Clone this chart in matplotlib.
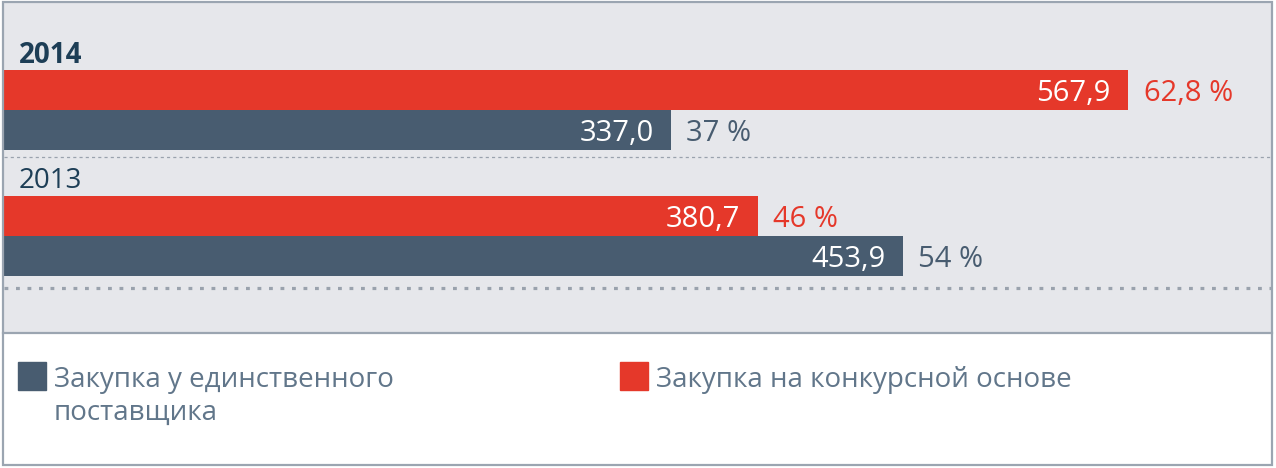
import matplotlib.pyplot as plt
from matplotlib.patches import Rectangle

# data
years = ['2014', '2013']
competitive = [567.9, 380.7]      # Закупка на конкурсной основе
single = [337.0, 453.9]           # Закупка у единственного поставщика
competitive_share = [62.8, 46]
single_share = [37, 54]
legend_labels = ['Закупка у единственного\nпоставщика', 'Закупка на конкурсной основе']

RED = '#e5382a'
NAVY = '#485c70'
YEAR_C = '#1d3e56'
LEG_C = '#61768a'
BG = '#e6e7eb'
FRAME = '#9ba5b1'

plt.rcParams['font.family'] = ['Open Sans', 'DejaVu Sans']

W, H = 1276, 468
fig = plt.figure(figsize=(W / 100, H / 100), dpi=100)
fig.patch.set_facecolor('white')

def fx(px):
    return px / W

def fy(py):
    return 1 - py / H

# gray plotting area, y axis coords == pixel rows
ax = fig.add_axes([fx(4), fy(333), fx(1271) - fx(4), fy(3) - fy(333)])
ax.set_facecolor(BG)
ax.set_ylim(333, 3)
xmax = 640.0
ax.set_xlim(0, xmax)
for s in ax.spines.values():
    s.set_visible(False)
ax.set_xticks([])
ax.set_yticks([])

def num(v):
    return ('%.1f' % v).replace('.', ',')

def pct(v):
    return ('%g' % v).replace('.', ',') + ' %'

group_h = 126
bar_h = 40
for i, yr in enumerate(years):
    top = 70 + i * group_h
    y_red = top + bar_h / 2
    y_nav = top + bar_h + bar_h / 2
    ax.barh(y_red, competitive[i], height=bar_h, color=RED)
    ax.barh(y_nav, single[i], height=bar_h, color=NAVY)
    ax.annotate(yr, xy=(0, top - 18), xytext=(10.5, 0), textcoords='offset points',
                fontsize=20, color=YEAR_C, fontweight='bold' if i == 0 else 'normal',
                va='center_baseline', ha='left')
    for y, v, p, c in [(y_red, competitive[i], competitive_share[i], RED),
                       (y_nav, single[i], single_share[i], NAVY)]:
        ax.annotate(num(v), xy=(v, y), xytext=(-12.5, 0), textcoords='offset points',
                    ha='right', va='center_baseline', color='white', fontsize=21)
        ax.annotate(pct(p), xy=(v, y), xytext=(11, 0), textcoords='offset points',
                    ha='left', va='center_baseline', color=c, fontsize=21)

# separators
ax.axhline(157, color='#9aa2ad', lw=0.9, linestyle=(0, (2.5, 2.5)))
ax.axhline(288, color='#9aa2ad', lw=2.3, linestyle=(0, (1.2, 2.4)))

# legend area
leg_items = [(18, NAVY, legend_labels[0]), (620, RED, legend_labels[1])]
for x0, c, lab in leg_items:
    fig.patches.append(Rectangle((fx(x0), fy(390)), fx(28), 28 / H, color=c,
                                 transform=fig.transFigure, figure=fig))
    for j, line in enumerate(lab.split('\n')):
        fig.text(fx(x0 + 36), fy(387 + 33 * j), line, fontsize=20, color=LEG_C,
                 ha='left', va='baseline')

# frame lines
fig.patches.append(Rectangle((fx(3), fy(465)), fx(1269), 463 / H, fill=False,
                             edgecolor=FRAME, lw=1.6, transform=fig.transFigure, figure=fig))
fig.lines.append(plt.Line2D([fx(3), fx(1272)], [fy(333), fy(333)], color=FRAME, lw=1.6,
                            transform=fig.transFigure, figure=fig))

fig.savefig('out.png', dpi=100)
